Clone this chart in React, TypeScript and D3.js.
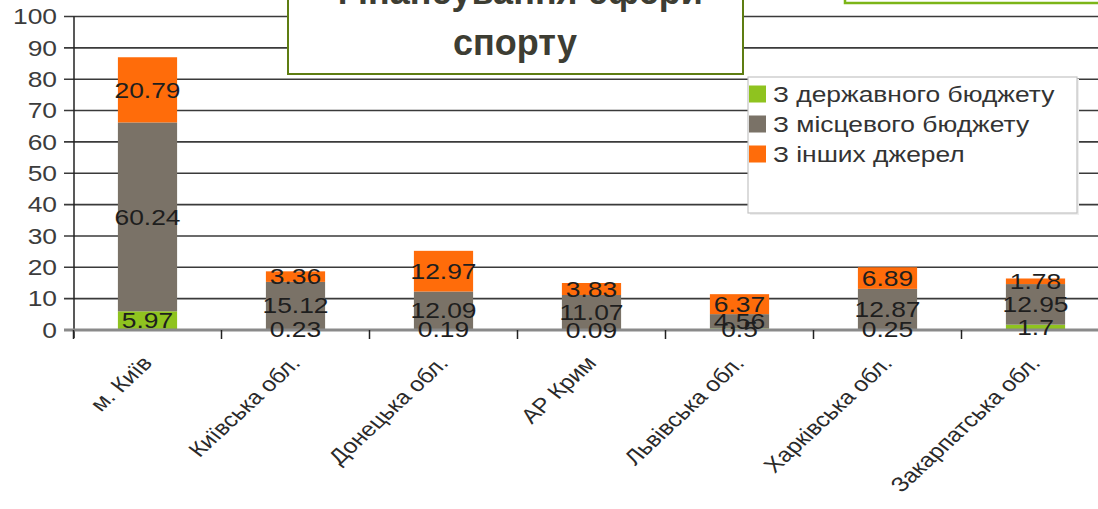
import React from 'react'
import * as d3 from 'd3'

const categories = ['м. Київ', 'Київська обл.', 'Донецька обл.', 'АР Крим', 'Львівська обл.', 'Харківська обл.', 'Закарпатська обл.']
const stateBudget = [5.97, 0.23, 0.19, 0.09, 0.5, 0.25, 1.7]
const localBudget = [60.24, 15.12, 12.09, 11.07, 4.56, 12.87, 12.95]
const otherSources = [20.79, 3.36, 12.97, 3.83, 6.37, 6.89, 1.78]
const seriesNames = ['З державного бюджету', 'З місцевого бюджету', 'З інших джерел']
const seriesColors = ['#8fc31f', '#7a7267', '#ff6c0a']
const yTicks = [0, 10, 20, 30, 40, 50, 60, 70, 80, 90, 100]
const titleLines = ['Фінансування сфери', 'спорту']

const font = '"Liberation Sans", Arial, sans-serif'
const SX = 1.2

export default function App() {
  const width = 1098
  const height = 509
  const x0 = 73.5
  const band = 148

  const values = [stateBudget, localBudget, otherSources]
  const rows = categories.map((c, i) => ({ cat: c, s0: stateBudget[i], s1: localBudget[i], s2: otherSources[i] }))
  const stack = d3.stack<any>().keys(['s0', 's1', 's2'])(rows)

  const x = d3.scaleBand().domain(categories).range([x0, x0 + band * categories.length]).paddingInner(0.6).paddingOuter(0.3)
  const y = d3.scaleLinear().domain([0, 100]).range([330, 16.5])

  return (
    <svg width={width} height={height} style={{ position: 'absolute', left: 0, top: 0 }}>
      <rect width={width} height={height} fill="#fff" />
      {/* grid */}
      {yTicks.filter(t => t > 0).map(t => (
        <line key={t} x1={64} x2={width} y1={y(t)} y2={y(t)} stroke="#3a3a3a" strokeWidth={1.6} />
      ))}
      <line x1={74} x2={74} y1={y(100)} y2={338} stroke="#222" strokeWidth={1.5} />
      {yTicks.map(t => (
        <text key={t} transform={`translate(57,${y(t)}) scale(${SX},1)`} textAnchor="end" dominantBaseline="central"
          fontFamily={font} fontSize={22} fill="#3c3c3c">{t}</text>
      ))}

      {/* bars */}
      {stack.map((s, si) => s.map((d, i) => (
        <rect key={si + '-' + i} x={x(categories[i])} width={x.bandwidth()} y={y(d[1])} height={y(d[0]) - y(d[1])}
          fill={seriesColors[si]} />
      )))}
      <line x1={64} x2={width} y1={y(0)} y2={y(0)} stroke="#8a8a8a" strokeWidth={3} />
      {categories.map((c, i) => (
        <line key={c} x1={x0 + band * i} x2={x0 + band * i} y1={y(0)} y2={339} stroke="#222" strokeWidth={1.5} />
      ))}
      {stack.map((s, si) => s.map((d, i) => (
        <text key={'l' + si + '-' + i}
          transform={`translate(${x(categories[i])! + x.bandwidth() / 2},${y((d[0] + d[1]) / 2)}) scale(${SX},1)`}
          textAnchor="middle" dominantBaseline="central" fontFamily={font} fontSize={22} fill="#1e1e1e">
          {values[si][i]}
        </text>
      )))}

      {/* category labels */}
      {categories.map(c => (
        <text key={c} transform={`translate(${x(c)! + x.bandwidth() / 2 + 6},${364}) scale(${SX},1) rotate(-48)`}
          textAnchor="end" fontFamily={font} fontSize={20.5} fill="#2a2a2a">{c}</text>
      ))}

      {/* title box */}
      <rect x={288} y={-20} width={455} height={94} fill="#fff" stroke="#5e7d12" strokeWidth={2} />
      {titleLines.map((t, i) => (
        <text key={t} x={515} y={4 + i * 51} textAnchor="middle" fontFamily={font} fontWeight="bold" fontSize={36}
          fill="#3d3d33">{t}</text>
      ))}

      {/* top right box */}
      <rect x={845} y={-20} width={300} height={23} fill="#fff" stroke="#7cb518" strokeWidth={2.5} />

      {/* legend */}
      <rect x={749} y={78} width={329} height={136} fill="#eee" transform="translate(1,1)" />
      <rect x={748} y={77} width={329} height={136} fill="#fff" stroke="#c4c4c4" strokeWidth={1.2} />
      {seriesNames.map((n, i) => (
        <g key={n} transform={`translate(749,${94 + i * 30})`}>
          <rect x={0} y={-8.5} width={17} height={17} fill={seriesColors[i]} />
          <text transform={`translate(24,0) scale(${SX},1)`} dominantBaseline="central" fontFamily={font}
            fontSize={22} fill="#333">{n}</text>
        </g>
      ))}
    </svg>
  )
}
